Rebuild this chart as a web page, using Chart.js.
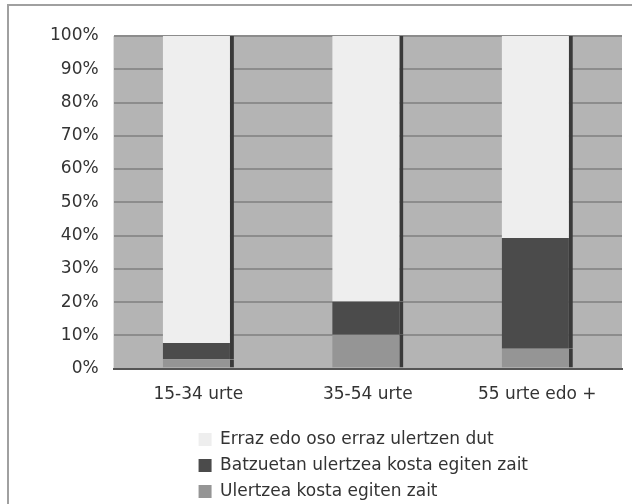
<!DOCTYPE html>
<html>
<head>
<meta charset="utf-8">
<script src="https://cdn.jsdelivr.net/npm/chart.js@4.4.0/dist/chart.umd.min.js"></script>
<style>
	html, body { margin: 0; padding: 0; background: #fff; }
	#wrap { position: relative; width: 632px; height: 504px; }
	#frame { position: absolute; left: 7px; top: 4px; right: 0; bottom: 0; border-top: 2px solid #a0a0a0; border-left: 2px solid #a0a0a0; pointer-events: none; }
</style>
</head>
<body>
<div id="wrap">
	<canvas id="myChart" width="632" height="504"></canvas>
	<div id="frame"></div>
</div>
<script>
const labels = ['15-34 urte', '35-54 urte', '55 urte edo +'];
const seriesNames = [
	'Erraz edo oso erraz ulertzen dut',
	'Batzuetan ulertzea kosta egiten zait',
	'Ulertzea kosta egiten zait',
];
const errazValues = [92.3, 79.8, 60.7];
const batzuetanValues = [5.0, 10.0, 33.3];
const kostaValues = [2.7, 10.2, 6.0];
const yTicks = [0, 10, 20, 30, 40, 50, 60, 70, 80, 90, 100];

const plotBackground = {
	id: 'plotBackground',
	beforeDraw(chart) {
		const { ctx, chartArea } = chart;
		ctx.save();
		ctx.fillStyle = '#b4b4b4';
		ctx.fillRect(chartArea.left, chartArea.top, chartArea.width, chartArea.height);
		ctx.restore();
	},
};

// keep legend rows left aligned, block centered under the plot
const legendBlock = {
	id: 'legendBlock',
	afterLayout(chart) {
		const l = chart.legend;
		if (!l || !l.lineWidths) return;
		const w = Math.max(...l.lineWidths);
		const center = (chart.chartArea.left + chart.chartArea.right) / 2;
		const pad = l.options.labels.padding;
		l.left = center - w / 2 - pad;
		l.right = l.left + w + pad * 2;
	},
};

const barStyle = {
	borderColor: '#3a3a3a',
	borderWidth: { top: 0, right: 4, bottom: 0, left: 0 },
	borderSkipped: false,
	barPercentage: 0.42,
	categoryPercentage: 1,
};

const ctx = document.getElementById('myChart').getContext('2d');
const myChart = new Chart(ctx, {
	type: 'bar',
	data: {
		labels,
		datasets: [
			{ label: seriesNames[2], data: kostaValues, backgroundColor: '#959595', ...barStyle },
			{ label: seriesNames[1], data: batzuetanValues, backgroundColor: '#4b4b4b', ...barStyle },
			{ label: seriesNames[0], data: errazValues, backgroundColor: '#eeeeee', ...barStyle },
		],
	},
	options: {
		responsive: false,
		animation: false,
		layout: { padding: { left: 35, right: 10, top: 36, bottom: -6 } },
		plugins: {
			tooltip: { enabled: false },
			legend: {
				position: 'bottom',
				align: 'start',
				fullSize: false,
				reverse: true,
				maxWidth: 360,
				labels: {
					color: '#333333',
					font: { family: 'DejaVu Sans', size: 17 },
					boxWidth: 13,
					boxHeight: 13,
					padding: 9,
					generateLabels(chart) {
						const items = Chart.defaults.plugins.legend.labels.generateLabels(chart);
						items.forEach((it) => {
							it.lineWidth = 0;
							it.strokeStyle = it.fillStyle;
						});
						return items;
					},
				},
			},
		},
		scales: {
			x: {
				stacked: true,
				grid: { display: false, drawTicks: false },
				border: { display: true, color: '#555555', width: 2 },
				ticks: { color: '#333333', font: { family: 'DejaVu Sans', size: 17 }, padding: 16 },
				afterFit(scale) { scale.height += 1; },
			},
			y: {
				stacked: true,
				min: 0,
				max: 100,
				afterBuildTicks(scale) { scale.ticks = yTicks.map((v) => ({ value: v })); },
				grid: { color: '#8c8c8c', lineWidth: 2, drawTicks: false },
				border: { display: false },
				ticks: {
					color: '#333333',
					font: { family: 'DejaVu Sans', size: 17 },
					padding: 15,
					callback: (v) => v + '%',
				},
			},
		},
	},
	plugins: [plotBackground, legendBlock],
});
</script>
</body>
</html>
